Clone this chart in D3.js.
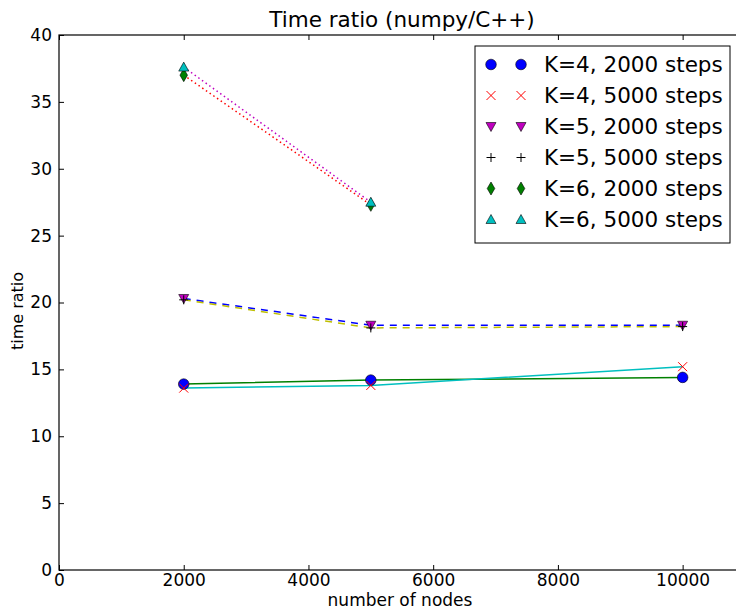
<!DOCTYPE html>
<html>
<head>
<meta charset="utf-8">
<script src="https://cdn.jsdelivr.net/npm/d3@7"></script>
<style>
body { margin: 0; background: #fff; }
svg { display: block; font-family: "DejaVu Sans", sans-serif; }
</style>
</head>
<body>
<svg width="736" height="609"></svg>
<script>
var nodes = [2000, 5000, 10000];
var k4s2000 = [13.9, 14.2, 14.4];
var k4s5000 = [13.6, 13.8, 15.2];
var k5s2000 = [20.3, 18.3, 18.3];
var k5s5000 = [20.2, 18.1, 18.2];
var k6s2000 = [37.0, 27.3];
var k6s5000 = [37.6, 27.5];
var labels = ['K=4, 2000 steps', 'K=4, 5000 steps', 'K=5, 2000 steps',
              'K=5, 5000 steps', 'K=6, 2000 steps', 'K=6, 5000 steps'];
var xTicks = [0, 2000, 4000, 6000, 8000, 10000];
var yTicks = [0, 5, 10, 15, 20, 25, 30, 35, 40];

var series = [
  {vals: k4s2000, marker: 'o', mcol: '#0000ff', lcol: '#008000', dash: null},
  {vals: k4s5000, marker: 'x', mcol: '#ff0000', lcol: '#00bfbf', dash: null},
  {vals: k5s2000, marker: 'v', mcol: '#bf00bf', lcol: '#0000ff', dash: '7,6'},
  {vals: k5s5000, marker: '+', mcol: '#000000', lcol: '#bfbf00', dash: '7,6'},
  {vals: k6s2000, marker: 'd', mcol: '#008000', lcol: '#ff0000', dash: '1.5,3'},
  {vals: k6s5000, marker: '^', mcol: '#00bfbf', lcol: '#bf00bf', dash: '1.5,3'}
];

var svg = d3.select('svg');
var x = d3.scaleLinear().domain([0, 11000]).range([59, 745]);
var y = d3.scaleLinear().domain([0, 40]).range([570, 35]);

// marker shapes, matplotlib style
var markerPath = function(m) {
  if (m == 'o') return 'M5.3,0A5.3,5.3 0 1,1 -5.3,0A5.3,5.3 0 1,1 5.3,0Z';
  if (m == 'x') return 'M-4.5,-4.5L4.5,4.5M-4.5,4.5L4.5,-4.5';
  if (m == '+') return 'M-4.5,0L4.5,0M0,-4.5L0,4.5';
  if (m == 'v') return 'M-5,-4L5,-4L0,5Z';
  if (m == '^') return 'M-5,4L5,4L0,-5Z';
  if (m == 'd') return 'M0,-6.5L3.8,0L0,6.5L-3.8,0Z';
}

var drawMarker = function(g, m, col, cx, cy) {
  var p = g.append('path')
    .attr('d', markerPath(m))
    .attr('transform', 'translate(' + cx + ',' + cy + ')');
  if (m == 'x' || m == '+') {
    p.attr('fill', 'none').attr('stroke', col).attr('stroke-width', 1);
  } else {
    p.attr('fill', col).attr('stroke', '#000').attr('stroke-width', 0.6);
  }
}

// frame
svg.append('rect')
  .attr('x', x(0)).attr('y', y(40))
  .attr('width', x(11000) - x(0)).attr('height', y(0) - y(40))
  .attr('fill', 'none').attr('stroke', '#000').attr('stroke-width', 1.2);

// axes with inward ticks
var fmt = d3.format('d');
svg.append('g').attr('transform', 'translate(0,' + y(0) + ')')
  .call(d3.axisBottom(x).tickValues(xTicks).tickFormat(fmt).tickSize(-5).tickPadding(4))
  .call(function(g) { g.select('.domain').remove(); });
svg.append('g').attr('transform', 'translate(0,' + y(40) + ')')
  .call(d3.axisTop(x).tickValues(xTicks).tickFormat('').tickSize(-5))
  .call(function(g) { g.select('.domain').remove(); });
svg.append('g').attr('transform', 'translate(' + x(0) + ',0)')
  .call(d3.axisLeft(y).tickValues(yTicks).tickFormat(fmt).tickSize(-5).tickPadding(7))
  .call(function(g) { g.select('.domain').remove(); });
svg.selectAll('.tick text').attr('font-size', 17).attr('font-family', 'DejaVu Sans').attr('fill', '#000');
svg.selectAll('.tick line').attr('stroke', '#000');

// lines
var line = d3.line()
  .x(function(d, i) { return x(nodes[i]); })
  .y(function(d) { return y(d); });
series.forEach(function(s) {
  svg.append('path')
    .attr('d', line(s.vals))
    .attr('fill', 'none')
    .attr('stroke', s.lcol)
    .attr('stroke-width', 1.5)
    .attr('stroke-dasharray', s.dash);
});

// markers
series.forEach(function(s) {
  var g = svg.append('g');
  s.vals.forEach(function(v, i) {
    drawMarker(g, s.marker, s.mcol, x(nodes[i]), y(v));
  });
});

// title and labels
svg.append('text').attr('x', 402).attr('y', 27).attr('text-anchor', 'middle')
  .attr('font-size', 21.5).text('Time ratio (numpy/C++)');
svg.append('text').attr('x', 400).attr('y', 606).attr('text-anchor', 'middle')
  .attr('font-size', 17).text('number of nodes');
svg.append('text').attr('transform', 'translate(23,311) rotate(-90)')
  .attr('text-anchor', 'middle').attr('font-size', 16).text('time ratio');

// legend
var leg = svg.append('g');
leg.append('rect').attr('x', 475).attr('y', 46).attr('width', 255).attr('height', 197)
  .attr('fill', '#fff').attr('stroke', '#000').attr('stroke-width', 1);
series.forEach(function(s, i) {
  var ry = 64.5 + i * 31;
  drawMarker(leg, s.marker, s.mcol, 491, ry);
  drawMarker(leg, s.marker, s.mcol, 521, ry);
  leg.append('text').attr('x', 544).attr('y', ry + 7.5).attr('font-size', 21.5).text(labels[i]);
});
</script>
</body>
</html>
